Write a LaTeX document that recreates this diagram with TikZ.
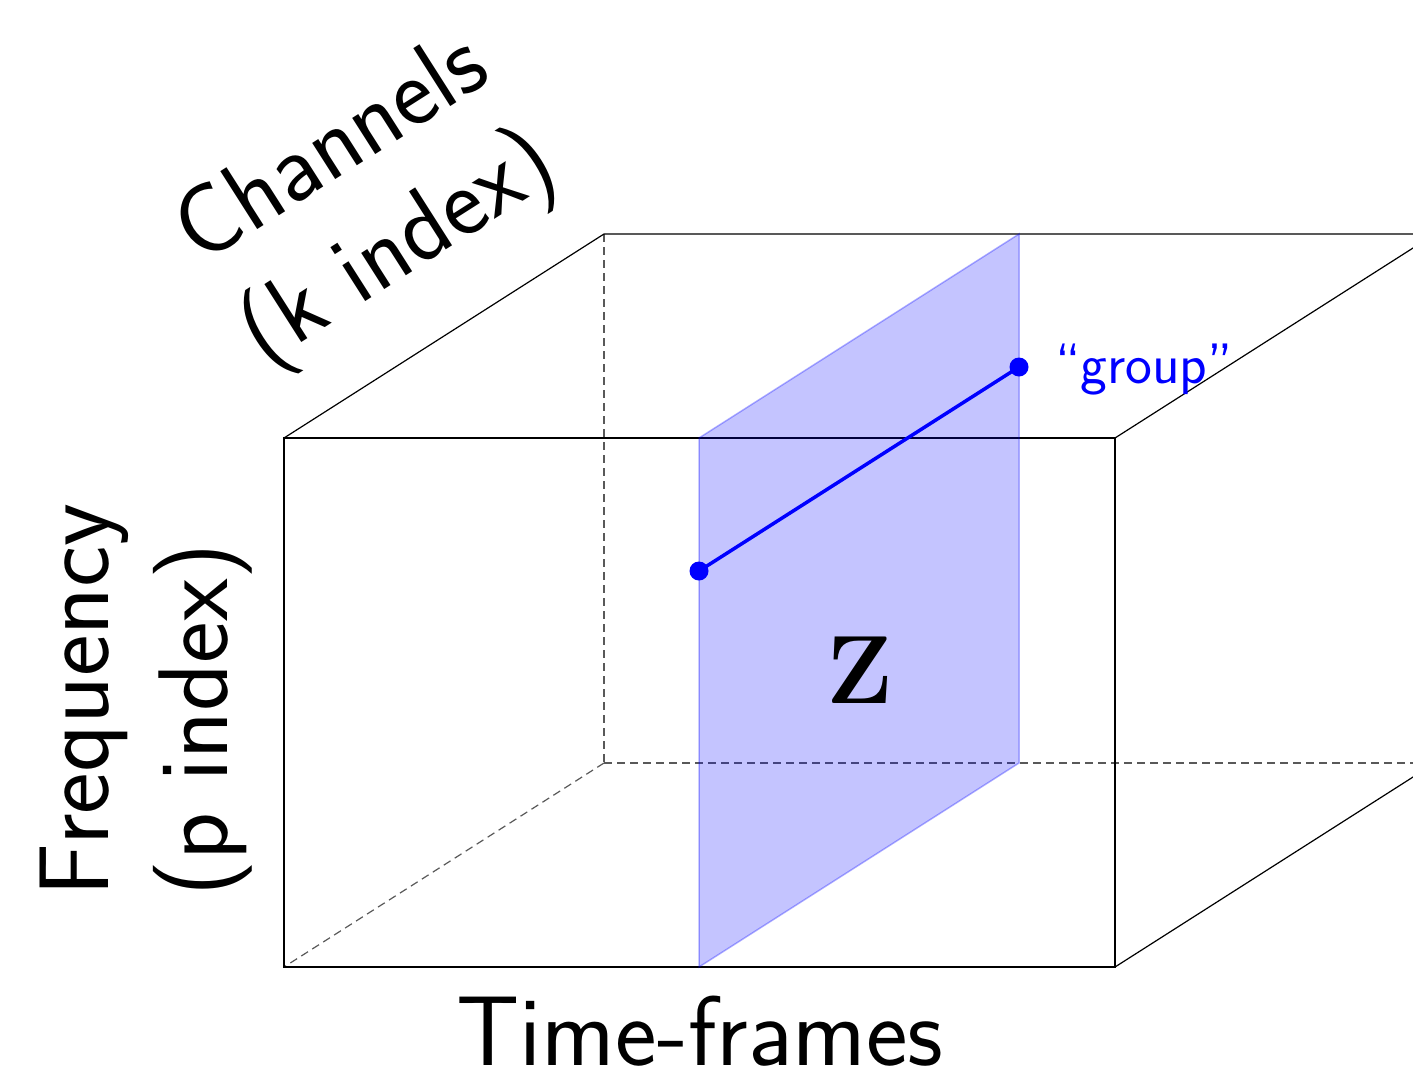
\documentclass[tikz,border=0pt]{standalone}
\usepackage{fontspec}
\begin{document}
\begin{tikzpicture}[x=1pt,y=-1pt,
  edge/.style={line width=1.2pt, black},
  hidden/.style={line width=1.2pt, dash pattern=on 8pt off 5pt, black!65},
  lbl/.style={font=\sffamily\fontsize{99}{119}\selectfont, inner sep=0pt, align=left},
  plane/.style={fill=blue, fill opacity=0.23, draw=blue, draw opacity=0.3, line width=1.5pt},
  grp/.style={blue, line width=3.5pt},
  dot/.style={circle, fill=blue, inner sep=0pt, minimum size=19pt}]
\useasboundingbox (0,0) rectangle (1413,1071);
\clip (0,0) rectangle (1413,1071);
% box corners
\coordinate (A) at (284,438);
\coordinate (B) at (1115,438);
\coordinate (C) at (1115,967);
\coordinate (D) at (284,967);
\coordinate (E) at (604,234);
\coordinate (F) at (1435,234);
\coordinate (G) at (1435,763);
\coordinate (H) at (604,763);
% hidden edges
\draw[hidden] (E) -- (H);
\draw[hidden] (H) -- (G);
\draw[hidden] (H) -- (D);
% visible edges
\draw[edge] (A) -- (B) -- (C) -- (D) -- cycle;
\draw[edge] (A) -- (E) -- (F) -- (B);
\draw[edge] (F) -- (G) -- (C);
% plane
\coordinate (P1) at (699,438);
\coordinate (P2) at (1019,234);
\coordinate (P3) at (1019,763);
\coordinate (P4) at (699,967);
\draw[plane] (P1) -- (P2) -- (P3) -- (P4) -- cycle;
% group line
\node[dot] (g1) at (699,571) {};
\node[dot] (g2) at (1019,367) {};
\draw[grp] (g1.center) -- (g2.center);
\node[anchor=base west, text=blue, font=\sffamily\fontsize{57}{67}\selectfont, inner sep=0pt] (glbl) at (1055,383) {“group”};
% Z
\node[font=\rmfamily\bfseries\fontsize{97}{110}\selectfont, inner sep=0pt] (Z) at (860,670) {Z};
% labels
\node[lbl, anchor=base] (time) at (700,1065) {Time-frames};
\node[lbl, rotate=90] (freq) at (146,700) {Frequency\\(p index)};
\node[lbl, rotate=32.5] (chan) at (369,203) {Channels\\(k index)};
\end{tikzpicture}
\end{document}
